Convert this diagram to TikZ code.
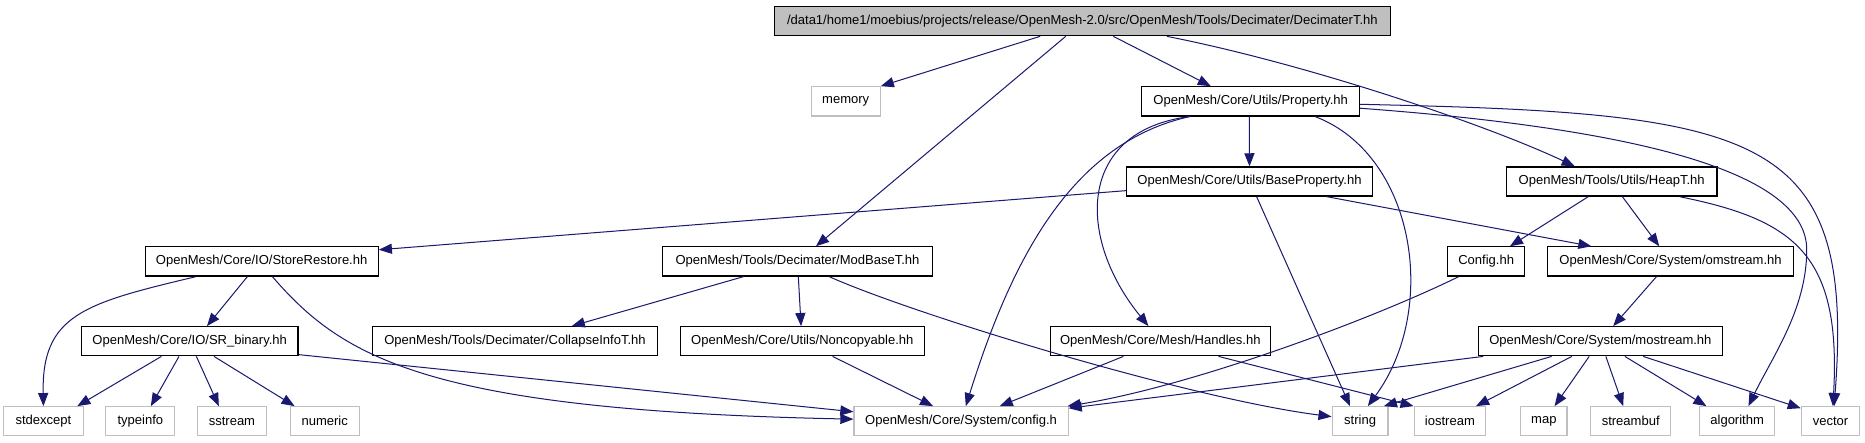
\documentclass[tikz,border=0pt]{standalone}
\usepackage{fontspec}
\setmainfont{Liberation Sans}
\usetikzlibrary{arrows.meta}
\definecolor{edgeblue}{HTML}{191970}
\definecolor{leafgray}{HTML}{BFBFBF}
\begin{document}
\begin{tikzpicture}[x=1pt,y=-1pt,
  box/.style={draw=black, line width=1pt, fill=white, inner sep=0pt, minimum height=24.5pt, font=\fontsize{10.95}{13}\selectfont},
  leaf/.style={box, draw=leafgray, line width=1pt},
  rootbox/.style={box, fill=leafgray},
  dep/.style={draw=edgeblue, line width=0.85pt, -{Triangle[length=11pt,width=8.5pt]}}]
\useasboundingbox (0,0) rectangle (1568,372);
% nodes
\node[rootbox, minimum width=518pt] (top) at (910,17.8) {/data1/home1/moebius/projects/release/OpenMesh-2.0/src/OpenMesh/Tools/Decimater/DecimaterT.hh};
\node[leaf, minimum width=58pt] (memory) at (711,85.2) {memory};
\node[box, minimum width=183pt] (prop) at (1051.5,85.2) {OpenMesh/Core/Utils/Property.hh};
\node[box, minimum width=207pt] (bprop) at (1050.5,152.6) {OpenMesh/Core/Utils/BaseProperty.hh};
\node[box, minimum width=177pt] (heap) at (1355,152.6) {OpenMesh/Tools/Utils/HeapT.hh};
\node[box, minimum width=196pt] (store) at (220,219.8) {OpenMesh/Core/IO/StoreRestore.hh};
\node[box, minimum width=227pt] (modbase) at (670.5,219.8) {OpenMesh/Tools/Decimater/ModBaseT.hh};
\node[box, minimum width=65pt] (cfghh) at (1249.5,219.8) {Config.hh};
\node[box, minimum width=206.5pt] (omstream) at (1404.5,219.8) {OpenMesh/Core/System/omstream.hh};
\node[box, minimum width=182pt] (srbin) at (159.5,286.9) {OpenMesh/Core/IO/SR\_binary.hh};
\node[box, minimum width=240pt] (collapse) at (433,286.9) {OpenMesh/Tools/Decimater/CollapseInfoT.hh};
\node[box, minimum width=205pt] (noncopy) at (674.5,286.9) {OpenMesh/Core/Utils/Noncopyable.hh};
\node[box, minimum width=185pt] (handles) at (975.5,286.9) {OpenMesh/Core/Mesh/Handles.hh};
\node[box, minimum width=205pt] (mostream) at (1345.5,286.9) {OpenMesh/Core/System/mostream.hh};
\node[leaf, minimum width=67pt] (stdexcept) at (36.5,354.2) {stdexcept};
\node[leaf, minimum width=58pt] (typeinfo) at (118,354.2) {typeinfo};
\node[leaf, minimum width=58pt] (sstream) at (195,354.2) {sstream};
\node[leaf, minimum width=58pt] (numeric) at (273,354.2) {numeric};
\node[leaf, minimum width=180pt] (configh) at (808,354.2) {OpenMesh/Core/System/config.h};
\node[leaf, minimum width=47pt] (string) at (1143.5,354.2) {string};
\node[leaf, minimum width=60pt] (iostream) at (1219,354.2) {iostream};
\node[leaf, minimum width=39pt] (map) at (1298,354.2) {map};
\node[leaf, minimum width=67.5pt] (streambuf) at (1371,354.2) {streambuf};
\node[leaf, minimum width=63pt] (algorithm) at (1460.5,354.2) {algorithm};
\node[leaf, minimum width=49pt] (vector) at (1539,354.2) {vector};
% edges
\draw[dep] ([xshift=-35.5pt]top.south) -- (memory.north east);
\draw[dep] ([xshift=-14pt]top.south) -- ([xshift=15.5pt]modbase.north);
\draw[dep] ([xshift=26pt]top.south) -- ([xshift=-33.5pt]prop.north);
\draw[dep] ([xshift=71pt]top.south) .. controls (1100,54) and (1250,105) .. ([xshift=-31pt]heap.north);
\draw[dep] ([xshift=-1.2pt]prop.south) -- (bprop.north);
\draw[dep] ([xshift=-51pt]prop.south) .. controls (900,120) and (850,220) .. ([xshift=4pt]configh.north);
\draw[dep] ([xshift=-51pt]prop.south) .. controls (905,110) and (905,200) .. ([xshift=-10pt]handles.north);
\draw[dep] ([xshift=54pt]prop.south) .. controls (1190,130) and (1210,260) .. ([xshift=6.5pt]string.north);
\draw[dep] ([yshift=-2.5pt]prop.east) .. controls (1480,95) and (1560,110) .. ([xshift=3pt]vector.north);
\draw[dep] ([yshift=-5.8pt]prop.east) .. controls (1400,110) and (1519,150) .. (1519,210) .. controls (1519,260) and (1490,300) .. ([xshift=9.5pt]algorithm.north);
\draw[dep] ([yshift=-7.7pt]bprop.west) -- ([yshift=9.8pt]store.east);
\draw[dep] ([xshift=6pt]bprop.south) -- ([xshift=-8.5pt]string.north);
\draw[dep] ([xshift=65pt]bprop.south) -- ([xshift=-66.5pt]omstream.north);
\draw[dep] ([xshift=-19.7pt]heap.south) -- ([xshift=20pt]cfghh.north);
\draw[dep] ([xshift=9pt]heap.south) -- ([xshift=-9.5pt]omstream.north);
\draw[dep] ([xshift=57pt]heap.south) .. controls (1510,185) and (1548,215) .. ([xshift=2pt]vector.north);
\draw[dep] ([xshift=-55pt]store.south) .. controls (70,255) and (35,265) .. (stdexcept.north);
\draw[dep] ([xshift=-12pt]store.south) -- ([xshift=14.5pt]srbin.north);
\draw[dep] ([xshift=9pt]store.south) .. controls (288,301) and (360,345) .. ([yshift=1.8pt]configh.west);
\draw[dep] ([yshift=1.5pt]srbin.south east) -- ([yshift=8pt]configh.west);
\draw[dep] ([xshift=-23.8pt]srbin.south) -- ([xshift=28.5pt]stdexcept.north);
\draw[dep] ([xshift=-9pt]srbin.south) -- ([xshift=8.8pt]typeinfo.north);
\draw[dep] ([xshift=5.6pt]srbin.south) -- ([xshift=-11pt]sstream.north);
\draw[dep] ([xshift=20.4pt]srbin.south) -- ([xshift=-25.3pt]numeric.north);
\draw[dep] ([xshift=-45.3pt]modbase.south) -- ([xshift=47.7pt]collapse.north);
\draw[dep] ([xshift=0.7pt]modbase.south) -- ([xshift=-1pt]noncopy.north);
\draw[dep] ([xshift=26.5pt]modbase.south) .. controls (770,265) and (1000,335) .. ([yshift=3.9pt]string.west);
\draw[dep] ([xshift=25.5pt]noncopy.south) -- ([xshift=-23.5pt]configh.north);
\draw[dep] ([xshift=-31pt]handles.south) -- ([xshift=32.5pt]configh.north);
\draw[dep] ([xshift=49pt]handles.south) -- (iostream.north west);
\draw[dep] ([xshift=-98.5pt]mostream.south) -- ([yshift=11pt]configh.east);
\draw[dep] ([xshift=-23pt]cfghh.south) .. controls (1150,270) and (1000,325) .. ([xshift=-1pt]configh.north east);
\draw[dep] ([xshift=-41pt]mostream.south) -- ([xshift=20pt]string.north);
\draw[dep] ([xshift=-24pt]mostream.south) -- ([xshift=22pt]iostream.north);
\draw[dep] ([xshift=-9.4pt]mostream.south) -- ([xshift=9pt]map.north);
\draw[dep] ([xshift=4.6pt]mostream.south) -- ([xshift=-6.3pt]streambuf.north);
\draw[dep] ([xshift=20.6pt]mostream.south) -- ([xshift=-25.8pt]algorithm.north);
\draw[dep] ([xshift=36pt]mostream.south) -- ([yshift=11pt]vector.west);
\draw[dep] ([xshift=-11.8pt]omstream.south) -- ([xshift=10.8pt]mostream.north);
\end{tikzpicture}
\end{document}
